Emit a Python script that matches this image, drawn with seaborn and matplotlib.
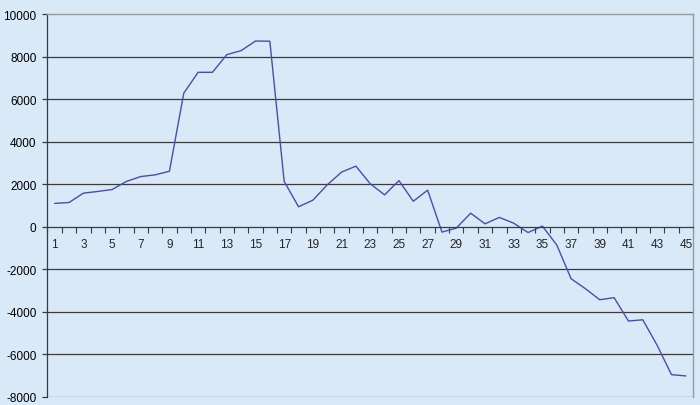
import matplotlib
matplotlib.use("Agg")
import matplotlib.pyplot as plt
import seaborn as sns
import pandas as pd
import numpy as np

categories = list(range(1, 46))
values = [1100, 1140, 1580, 1660, 1750, 2130, 2360, 2440, 2610, 6280,
          7260, 7260, 8090, 8280, 8730, 8720, 2130, 940, 1250, 1970,
          2570, 2850, 2020, 1500, 2170, 1200, 1720, -250, -60, 640,
          140, 440, 170, -270, 30, -850, -2440, -2910, -3430, -3330,
          -4430, -4370, -5570, -6950, -7010]
y_ticks = [-8000, -6000, -4000, -2000, 0, 2000, 4000, 6000, 8000, 10000]
x_labels = [str(c) for c in categories if c % 2 == 1]

df = pd.DataFrame({"cat": categories, "val": values})

sns.set_theme(style="white")
plt.rcParams["font.family"] = ["Liberation Sans", "DejaVu Sans"]

bg = "#d9e9f8"
W, H = 700, 406
fig = plt.figure(figsize=(W / 100, H / 100), dpi=100, facecolor=bg)
ax = fig.add_axes([47.5 / W, 1 - 398 / H, (693 - 47.5) / W, (398 - 15) / H])
ax.set_facecolor(bg)

sns.lineplot(data=df, x="cat", y="val", ax=ax, color="#4c4cae", lw=1.0)

ax.set_xlim(0.5, 45.5)
ax.set_ylim(-8000, 10000)

# gridlines
for yv in y_ticks:
    if yv in (-8000, 10000, 0):
        continue
    ax.axhline(yv, color="#3a3a3a", lw=0.9, zorder=0.5)
ax.axhline(-8000, color="#8a8a8a", lw=1.0, zorder=0.5)

ax.set_yticks(y_ticks)
ax.set_yticklabels([str(v) for v in y_ticks])
ax.tick_params(axis="y", length=3.5, width=0.9, direction="out", color="#3a3a3a",
               pad=4.5, labelsize=8.5, colors="black", left=True)
ax.tick_params(axis="y", colors="#3a3a3a", labelcolor="black")

ax.set_xticks([c for c in categories if c % 2 == 1])
ax.set_xticklabels(x_labels)
ax.set_xticks(np.arange(0.5, 46, 1.0), minor=True)
ax.tick_params(axis="x", which="major", length=0, pad=8, labelsize=8.5)
ax.tick_params(axis="x", which="minor", length=4, width=0.8, direction="out",
               color="#3a3a3a", bottom=True)

ax.spines["bottom"].set_position(("data", 0))
ax.spines["bottom"].set_color("#3a3a3a")
ax.spines["bottom"].set_linewidth(0.9)
ax.spines["left"].set_color("#3a3a3a")
ax.spines["left"].set_linewidth(0.9)
ax.spines["top"].set_color("#9a9a9a")
ax.spines["right"].set_color("#9a9a9a")
ax.spines["top"].set_linewidth(1.0)
ax.spines["right"].set_linewidth(1.0)

ax.set_xlabel("")
ax.set_ylabel("")

fig.savefig("out.png", dpi=100, facecolor=bg)
